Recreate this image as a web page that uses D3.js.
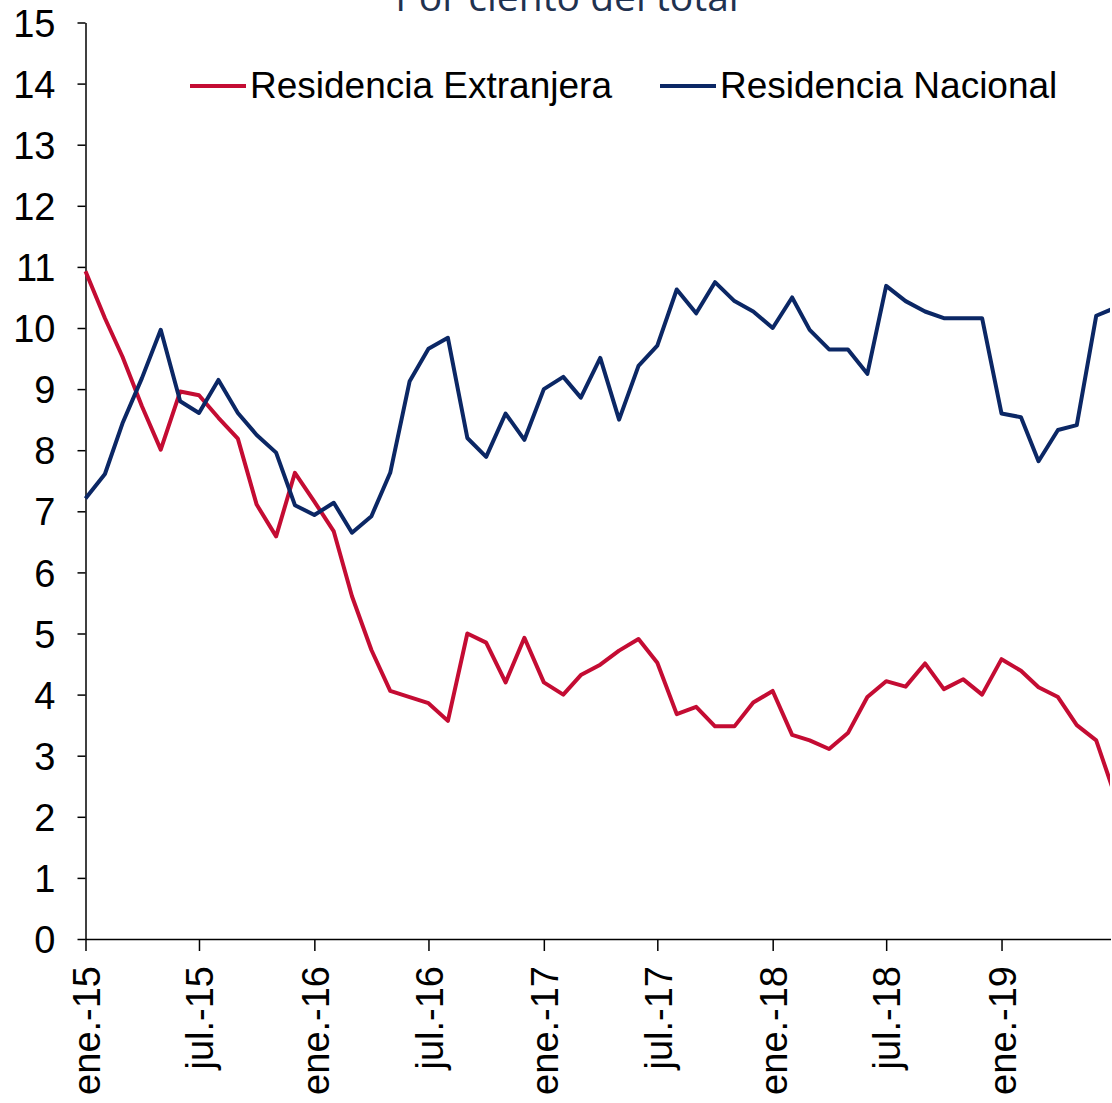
<!DOCTYPE html>
<html>
<head>
<meta charset="utf-8">
<script src="https://cdn.jsdelivr.net/npm/d3@7"></script>
<style>
  body { margin: 0; background: #ffffff; }
  svg { display: block; overflow: hidden; }
  .axis text { font-family: "Liberation Sans", Arial, sans-serif; font-size: 38px; fill: #000; }
  .axis path, .axis line { stroke: #000; stroke-width: 1.5px; }
</style>
</head>
<body>
<div id="chart"></div>
<script>
// monthly observations, ene.-15 onwards
var months = d3.timeMonth.range(new Date(2015, 0, 1), new Date(2019, 7, 1));

var extranjera = [
    10.93, 10.16, 9.53, 8.72, 8.01, 8.96, 8.90, 8.53, 8.19, 7.11, 6.59, 7.63,
    7.16, 6.67, 5.61, 4.73, 4.06, 3.96, 3.86, 3.57, 5.00, 4.85, 4.20, 4.93,
    4.20, 4.00, 4.32, 4.49, 4.72, 4.91, 4.52, 3.68, 3.80, 3.48, 3.48, 3.87,
    4.06, 3.34, 3.25, 3.11, 3.37, 3.96, 4.22, 4.13, 4.51, 4.09, 4.25, 4.00,
    4.58, 4.39, 4.12, 3.96, 3.50, 3.25, 2.35
];

var nacional = [
    7.21, 7.61, 8.44, 9.18, 9.97, 8.80, 8.61, 9.15, 8.61, 8.25, 7.96, 7.10,
    6.94, 7.14, 6.65, 6.92, 7.63, 9.13, 9.66, 9.84, 8.20, 7.89, 8.60, 8.17,
    9.00, 9.20, 8.86, 9.51, 8.50, 9.38, 9.71, 10.63, 10.24, 10.75, 10.44, 10.27,
    10.00, 10.50, 9.97, 9.65, 9.65, 9.25, 10.69, 10.44, 10.27, 10.16, 10.16, 10.16,
    8.60, 8.54, 7.82, 8.33, 8.41, 10.20, 10.33
];

var tickLabels = ["ene.-15", "jul.-15", "ene.-16", "jul.-16", "ene.-17",
                  "jul.-17", "ene.-18", "jul.-18", "ene.-19"];
var yTicks = d3.range(0, 16);

var series = [
    { name: "Residencia Extranjera", values: extranjera, color: "#C40C33" },
    { name: "Residencia Nacional", values: nacional, color: "#0B2765" }
];

var width = 1112;
var height = 1103;
var plotLeft = 85.5, plotRight = 1110, plotTop = 22.5, plotBottom = 939;

var svg = d3.select("#chart")
    .append("svg")
    .attr("width", width)
    .attr("height", height);

// plot area ends before the last month, so the lines are cut there
var x = d3.scaleTime()
    .domain([new Date(2015, 0, 1), new Date(2019, 5, 23)])
    .range([plotLeft, plotRight]);

var y = d3.scaleLinear()
    .domain([0, 15])
    .range([plotBottom, plotTop]);

svg.append("defs").append("clipPath")
    .attr("id", "plot")
    .append("rect")
    .attr("x", plotLeft - 5)
    .attr("y", 0)
    .attr("width", plotRight - plotLeft + 5)
    .attr("height", plotBottom);

// title (cropped at the top, like the original)
svg.append("text")
    .attr("x", 567)
    .attr("y", 11)
    .attr("text-anchor", "middle")
    .style("font-family", "'Open Sans', sans-serif")
    .style("font-size", "39px")
    .style("fill", "#1F3250")
    .text("Por ciento del total");

var yAxis = svg.append("g")
    .attr("class", "axis")
    .attr("transform", "translate(" + plotLeft + ",0)")
    .call(d3.axisLeft(y).tickValues(yTicks).tickSize(8).tickPadding(22).tickSizeOuter(0));
yAxis.selectAll("text").attr("dy", "0.36em");

var tickDates = tickLabels.map(function (d, i) { return d3.timeMonth.offset(new Date(2015, 0, 1), i * 6); });

var xAxis = svg.append("g")
    .attr("class", "axis")
    .attr("transform", "translate(0," + plotBottom + ")")
    .call(d3.axisBottom(x)
        .tickValues(tickDates)
        .tickSize(12)
        .tickSizeOuter(0)
        .tickFormat(function (d, i) { return tickLabels[i]; }));

xAxis.select(".domain").attr("d", "M" + plotLeft + ",0.5H" + (plotRight + 1));

xAxis.selectAll("text")
    .attr("transform", "rotate(-90)")
    .attr("text-anchor", "end")
    .attr("x", -27)
    .attr("y", 0)
    .attr("dy", "0.36em");

var line = d3.line()
    .x(function (d, i) { return x(months[i]); })
    .y(function (d) { return y(d); });

svg.append("g")
    .attr("clip-path", "url(#plot)")
    .selectAll("path")
    .data(series)
    .enter()
    .append("path")
    .attr("d", function (d) { return line(d.values); })
    .attr("fill", "none")
    .attr("stroke", function (d) { return d.color; })
    .attr("stroke-width", 4)
    .attr("stroke-linejoin", "round");

// legend
var legendPos = [190, 660];
var legend = svg.selectAll(".legend")
    .data(series)
    .enter()
    .append("g")
    .attr("class", "legend")
    .attr("transform", function (d, i) { return "translate(" + legendPos[i] + ",86)"; });

legend.append("line")
    .attr("x1", 0)
    .attr("x2", 56)
    .attr("stroke", function (d) { return d.color; })
    .attr("stroke-width", 4);

legend.append("text")
    .attr("x", 60)
    .attr("y", 12)
    .style("font-family", "'Liberation Sans', Arial, sans-serif")
    .style("font-size", "37px")
    .text(function (d) { return d.name; });
</script>
</body>
</html>
